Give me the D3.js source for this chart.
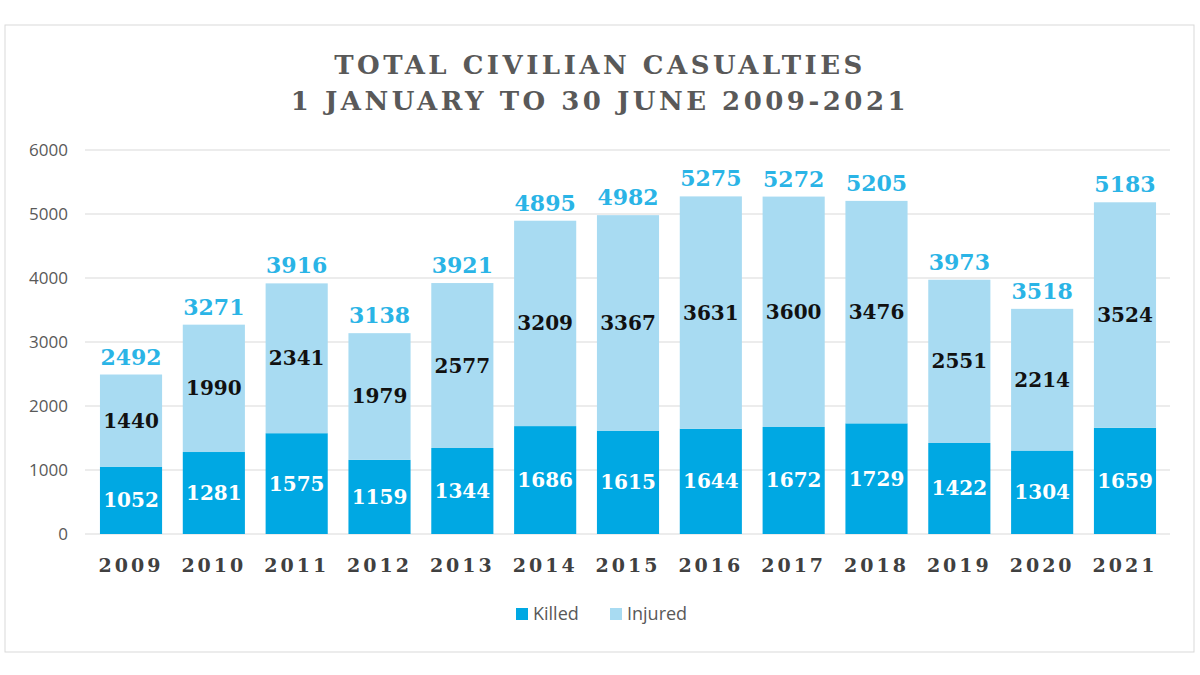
<!DOCTYPE html>
<html><head><meta charset="utf-8">
<script src="https://cdn.jsdelivr.net/npm/d3@7"></script>
<style>body{margin:0;background:#fff}</style>
</head><body>
<script>
var years = ["2009","2010","2011","2012","2013","2014","2015","2016","2017","2018","2019","2020","2021"];
var killed = [1052,1281,1575,1159,1344,1686,1615,1644,1672,1729,1422,1304,1659];
var injured = [1440,1990,2341,1979,2577,3209,3367,3631,3600,3476,2551,2214,3524];
var totals = [2492,3271,3916,3138,3921,4895,4982,5275,5272,5205,3973,3518,5183];
var yTicks = [0,1000,2000,3000,4000,5000,6000];

var cKilled = "#00a8e3", cInjured = "#a8dbf2", cTotal = "#2ab4e6";
var serif = "'DejaVu Serif', 'Liberation Serif', serif";

var svg = d3.select("body").append("svg").attr("width",1200).attr("height",675);
svg.append("rect").attr("x",5).attr("y",25).attr("width",1189).attr("height",627)
  .attr("fill","#fff").attr("stroke","#d9d9d9");

var x = d3.scaleBand().domain(years).range([89.6,1166.4]).paddingInner(0.25).paddingOuter(0.125);
var y = d3.scaleLinear().domain([0,6000]).range([534,150]);

svg.append("g").selectAll("line").data(yTicks).join("line")
  .attr("x1",85).attr("x2",1170).attr("y1",d=>y(d)).attr("y2",d=>y(d))
  .attr("stroke","#d9d9d9");
svg.append("g").selectAll("text").data(yTicks).join("text")
  .attr("x",68).attr("y",d=>y(d)+6).attr("text-anchor","end")
  .attr("font-family","'Open Sans', sans-serif").attr("font-size",17).attr("fill","#595959")
  .text(d=>d);

var g = svg.append("g");
years.forEach(function(yr,i){
  var bx = x(yr), bw = x.bandwidth();
  g.append("rect").attr("x",bx).attr("width",bw).attr("y",y(killed[i])).attr("height",y(0)-y(killed[i])).attr("fill",cKilled);
  g.append("rect").attr("x",bx).attr("width",bw).attr("y",y(killed[i]+injured[i])).attr("height",y(killed[i])-y(killed[i]+injured[i])).attr("fill",cInjured);
  var cx = bx+bw/2;
  g.append("text").attr("x",cx).attr("y",(y(0)+y(killed[i]))/2+7).attr("text-anchor","middle")
    .attr("font-family",serif).attr("font-weight","bold").attr("font-size",20).attr("fill","#fff").text(killed[i]);
  g.append("text").attr("x",cx).attr("y",(y(killed[i])+y(killed[i]+injured[i]))/2+7).attr("text-anchor","middle")
    .attr("font-family",serif).attr("font-weight","bold").attr("font-size",20).attr("fill","#111").text(injured[i]);
  g.append("text").attr("x",cx).attr("y",y(totals[i])-10).attr("text-anchor","middle")
    .attr("font-family",serif).attr("font-weight","bold").attr("font-size",22).attr("fill",cTotal).text(totals[i]);
  g.append("text").attr("x",cx).attr("y",572).attr("text-anchor","middle")
    .attr("font-family",serif).attr("font-weight","bold").attr("font-size",19).attr("letter-spacing",3)
    .attr("fill","#404040").text(yr);
});

var title = ["TOTAL CIVILIAN CASUALTIES","1 JANUARY TO 30 JUNE 2009-2021"];
svg.selectAll(".t").data(title).join("text")
  .attr("x",600).attr("y",(d,i)=>74+i*36).attr("text-anchor","middle")
  .attr("font-family",serif).attr("font-weight","bold").attr("font-size",26).attr("letter-spacing",3.5)
  .attr("fill","#595959").text(d=>d);

var legend = [["Killed",cKilled],["Injured",cInjured]];
var lx = [516,610];
legend.forEach(function(l,i){
  svg.append("rect").attr("x",lx[i]).attr("y",608).attr("width",12).attr("height",12).attr("fill",l[1]);
  svg.append("text").attr("x",lx[i]+17).attr("y",620).attr("font-family","'Open Sans', sans-serif")
    .attr("font-size",18).attr("fill","#595959").text(l[0]);
});
</script>
</body></html>
